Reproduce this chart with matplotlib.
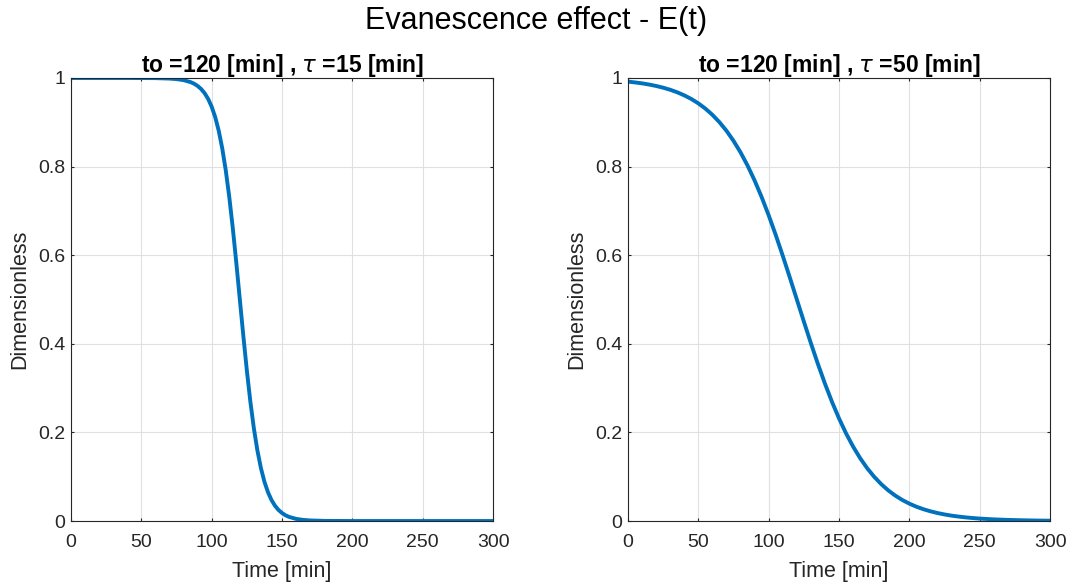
import matplotlib
matplotlib.use("Agg")
import matplotlib.pyplot as plt
from matplotlib.ticker import FuncFormatter

plt.rcParams["font.family"] = ["Liberation Sans", "DejaVu Sans"]
plt.rcParams["mathtext.fontset"] = "dejavusans"

# values
t_fast = [0, 20, 40, 60, 70, 75, 80, 85, 87.5, 90, 92.5, 95, 97.5, 100, 102.5,
          105, 107.5, 110, 112.5, 115, 117.5, 120, 122.5, 125, 127.5, 130,
          132.5, 135, 137.5, 140, 142.5, 145, 147.5, 150, 152.5, 155, 160,
          165, 170, 180, 200, 250, 300]
e_fast = [1.0, 1.0, 1.0, 0.9997, 0.9987, 0.9975, 0.9952, 0.9907, 0.9871,
          0.9820, 0.9751, 0.9656, 0.9526, 0.9350, 0.9116, 0.8808, 0.8411,
          0.7914, 0.7311, 0.6608, 0.5826, 0.5, 0.4174, 0.3392, 0.2689,
          0.2086, 0.1589, 0.1192, 0.0884, 0.0650, 0.0474, 0.0344, 0.0249,
          0.0180, 0.0129, 0.0093, 0.0048, 0.0025, 0.0013, 0.0003, 0.0,
          0.0, 0.0]

t_slow = [0, 5, 10, 15, 20, 25, 30, 35, 40, 45, 50, 55, 60, 65, 70, 75, 80,
          85, 90, 95, 100, 105, 110, 115, 120, 125, 130, 135, 140, 145, 150,
          155, 160, 165, 170, 175, 180, 185, 190, 195, 200, 205, 210, 215,
          220, 225, 230, 235, 240, 245, 250, 260, 270, 280, 290, 300]
e_slow = [0.9918, 0.9900, 0.9879, 0.9852, 0.9820, 0.9781, 0.9734, 0.9677,
          0.9608, 0.9526, 0.9427, 0.9309, 0.9168, 0.9002, 0.8808, 0.8581,
          0.8320, 0.8022, 0.7685, 0.7311, 0.6900, 0.6457, 0.5987, 0.5498,
          0.5, 0.4502, 0.4013, 0.3543, 0.3100, 0.2689, 0.2315, 0.1978,
          0.1680, 0.1419, 0.1192, 0.0998, 0.0832, 0.0691, 0.0573, 0.0474,
          0.0392, 0.0323, 0.0266, 0.0219, 0.0180, 0.0148, 0.0121, 0.0100,
          0.0082, 0.0067, 0.0055, 0.0037, 0.0025, 0.0017, 0.0011, 0.0007]

titles = [r"to =120 [min] , $\tau$ =15 [min]", r"to =120 [min] , $\tau$ =50 [min]"]
x_ticks = [0, 50, 100, 150, 200, 250, 300]
y_ticks = [0, 0.2, 0.4, 0.6, 0.8, 1.0]

fig = plt.figure(figsize=(10.73, 5.86), dpi=100)
ax1 = fig.add_axes([0.0662, 0.1109, 0.3933, 0.756])
ax2 = fig.add_axes([0.5853, 0.1109, 0.3933, 0.756])

fmt = FuncFormatter(lambda v, _: f"{v:g}")
for ax, t, e, title in [(ax1, t_fast, e_fast, titles[0]), (ax2, t_slow, e_slow, titles[1])]:
    ax.plot(t, e, color="#0072BD", linewidth=2.8, solid_capstyle="round")
    ax.set_xlim(0, 300)
    ax.set_ylim(0, 1)
    ax.set_xticks(x_ticks)
    ax.set_yticks(y_ticks)
    ax.yaxis.set_major_formatter(fmt)
    ax.grid(True, color="#e0e0e0", linewidth=0.8)
    ax.set_axisbelow(True)
    ax.tick_params(direction="in", labelsize=14, colors="#262626", length=2.5,
                   width=0.8, pad=4, top=True, right=True,
                   labeltop=False, labelright=False)
    ax.tick_params(axis="x", pad=9.5)
    for sp in ax.spines.values():
        sp.set_color("#262626")
        sp.set_linewidth(0.8)
    ax.set_xlabel("Time [min]", fontsize=15.5, color="#262626", labelpad=7)
    ax.set_ylabel("Dimensionless", fontsize=15.5, color="#262626", labelpad=6)
    ax.set_title(title, fontsize=16.5, fontweight="bold", pad=4)

fig.suptitle("Evanescence effect - E(t)", fontsize=22, y=0.99)

fig.savefig("out.png", dpi=100)
